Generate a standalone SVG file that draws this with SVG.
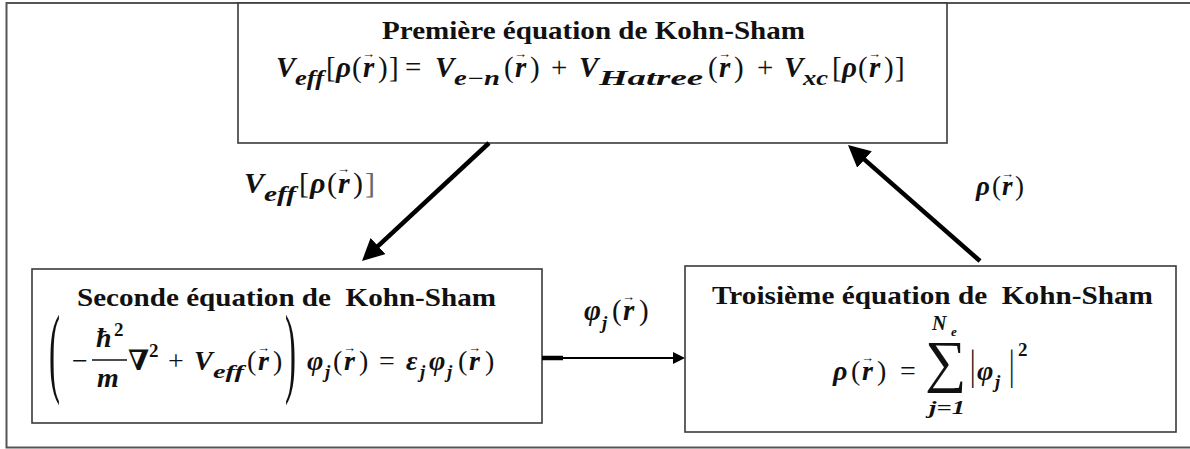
<svg xmlns="http://www.w3.org/2000/svg" width="1190" height="449" viewBox="0 0 1190 449">
<defs>
<style>
.frame{fill:none;stroke:#555;stroke-width:2}
.box{fill:#fff;stroke:#3a3a3a;stroke-width:1.6}
.title{font-family:"Liberation Serif","DejaVu Serif",serif;font-weight:bold;font-size:25px;fill:#111}
.mi{font-family:"Liberation Serif","DejaVu Serif",serif;font-weight:bold;font-style:italic;fill:#111}
.mo{font-family:"Liberation Serif","DejaVu Serif",serif;fill:#111}
.mb{font-family:"Liberation Serif","DejaVu Serif",serif;font-weight:bold;fill:#111}
.vec{font-family:"Liberation Serif","DejaVu Serif",serif;font-size:13px;fill:#111}
.z30{font-size:30px}.z29{font-size:29px}.z28{font-size:28px}.z27{font-size:27px}
.z20{font-size:20px}.z19{font-size:19px}.z13{font-size:13px}
.thick{stroke:#000;stroke-width:4.5;fill:none}
.thin{stroke:#000;stroke-width:2;fill:none}
</style>
<marker id="ahBig" markerUnits="userSpaceOnUse" markerWidth="24" markerHeight="22" refX="6" refY="11" orient="auto">
<path d="M0,0 L22,11 L0,22 z" fill="#000"/>
</marker>
<marker id="ahSmall" markerUnits="userSpaceOnUse" markerWidth="14" markerHeight="12" refX="2" refY="6" orient="auto">
<path d="M0,0 L12,6 L0,12 z" fill="#000"/>
</marker>
</defs>
<rect width="1190" height="449" fill="#fff"/>
<rect class="frame" x="6.5" y="3" width="1200" height="444.5"/>

<g id="node-first">
<rect class="box" x="238" y="3" width="709" height="140"/>
<text class="title" x="382" y="39" textLength="423" lengthAdjust="spacingAndGlyphs">Première équation de Kohn-Sham</text>
<text class="mi z29" x="276" y="77">V</text>
<text class="mi z20" x="295" y="85" textLength="29" lengthAdjust="spacingAndGlyphs">eff</text>
<text class="mo z29" x="326" y="77">[</text>
<text class="mi z29" x="336" y="77">ρ</text>
<text class="mo z29" x="352" y="77">(</text>
<text class="mi z29" x="363" y="77">r</text>
<text class="vec" x="362" y="58">→</text>
<text class="mo z29" x="378" y="77">)</text>
<text class="mo z29" x="389" y="77">]</text>
<text class="mo z29" x="405" y="77">=</text>
<text class="mi z29" x="435" y="77">V</text>
<text class="mi z20" x="454" y="85" textLength="46" lengthAdjust="spacingAndGlyphs">e−n</text>
<text class="mo z29" x="504" y="77">(</text>
<text class="mi z29" x="515" y="77">r</text>
<text class="vec" x="514" y="58">→</text>
<text class="mo z29" x="530" y="77">)</text>
<text class="mo z29" x="551" y="77">+</text>
<text class="mi z29" x="579" y="77">V</text>
<text class="mi z20" x="599" y="85" textLength="104" lengthAdjust="spacingAndGlyphs">Hatree</text>
<text class="mo z29" x="708" y="77">(</text>
<text class="mi z29" x="719" y="77">r</text>
<text class="vec" x="718" y="58">→</text>
<text class="mo z29" x="734" y="77">)</text>
<text class="mo z29" x="757" y="77">+</text>
<text class="mi z29" x="784" y="77">V</text>
<text class="mi z20" x="803" y="85" textLength="25" lengthAdjust="spacingAndGlyphs">xc</text>
<text class="mo z29" x="832" y="77">[</text>
<text class="mi z29" x="842" y="77">ρ</text>
<text class="mo z29" x="858" y="77">(</text>
<text class="mi z29" x="869" y="77">r</text>
<text class="vec" x="868" y="58">→</text>
<text class="mo z29" x="884" y="77">)</text>
<text class="mo z29" x="895" y="77">]</text>
</g>

<g id="node-second">
<rect class="box" x="32" y="269" width="510" height="154"/>
<text class="title" x="77" y="306" textLength="419" lengthAdjust="spacingAndGlyphs" xml:space="preserve">Seconde équation de  Kohn-Sham</text>
<text class="mo z30" transform="translate(49,384) scale(1.1,3.3)">(</text>
<text class="mo z28" x="72" y="370">−</text>
<text class="mi z28" x="96" y="347">ħ</text>
<text class="mb z19" x="114" y="336">2</text>
<line x1="92" y1="360" x2="127" y2="360" stroke="#111" stroke-width="1.5"/>
<text class="mi z28" x="97" y="387">m</text>
<text class="mb z28" x="128" y="370">∇</text>
<text class="mb z19" x="149" y="357">2</text>
<text class="mo z28" x="168" y="370">+</text>
<text class="mi z28" x="194" y="370">V</text>
<text class="mi z19" x="213" y="378" textLength="31" lengthAdjust="spacingAndGlyphs">eff</text>
<text class="mo z28" x="247" y="370">(</text>
<text class="mi z28" x="258" y="370">r</text>
<text class="vec" x="257" y="352">→</text>
<text class="mo z28" x="273" y="370">)</text>
<text class="mo z30" transform="translate(285,384) scale(1.1,3.3)">)</text>
<text class="mi z28" x="307" y="370">φ</text>
<text class="mi z19" x="325" y="378">j</text>
<text class="mo z28" x="333" y="370">(</text>
<text class="mi z28" x="344" y="370">r</text>
<text class="vec" x="343" y="352">→</text>
<text class="mo z28" x="359" y="370">)</text>
<text class="mo z28" x="379" y="370">=</text>
<text class="mi z28" x="406" y="370">ε</text>
<text class="mi z19" x="420" y="378">j</text>
<text class="mi z28" x="429" y="370">φ</text>
<text class="mi z19" x="447" y="378">j</text>
<text class="mo z28" x="458" y="370">(</text>
<text class="mi z28" x="469" y="370">r</text>
<text class="vec" x="468" y="352">→</text>
<text class="mo z28" x="485" y="370">)</text>
</g>

<g id="node-third">
<rect class="box" x="685" y="266" width="491" height="166"/>
<text class="title" x="712" y="304" textLength="441" lengthAdjust="spacingAndGlyphs" xml:space="preserve">Troisième équation de  Kohn-Sham</text>
<text class="mi z28" x="833" y="380">ρ</text>
<text class="mo z28" x="851" y="380">(</text>
<text class="mi z28" x="862" y="380">r</text>
<text class="vec" x="861" y="362">→</text>
<text class="mo z28" x="877" y="380">)</text>
<text class="mo z28" x="900" y="380">=</text>
<text class="mo" style="font-size:58px" x="925" y="381">∑</text>
<text class="mi z20" x="932" y="330">N</text>
<text class="mi z13" x="951" y="336">e</text>
<text class="mi z19" x="929" y="414" textLength="36" lengthAdjust="spacingAndGlyphs">j=1</text>
<text class="mo z27" transform="translate(970,379) scale(1,1.6)">|</text>
<text class="mi z28" x="977" y="380">φ</text>
<text class="mi z19" x="995" y="388">j</text>
<text class="mo z27" transform="translate(1009,379) scale(1,1.6)">|</text>
<text class="mb z19" x="1018" y="356">2</text>
</g>

<g id="connectors">
<line class="thick" x1="489" y1="143" x2="373.7" y2="250.1" marker-end="url(#ahBig)"/>
<line class="thick" x1="980" y1="261" x2="860" y2="155.6" marker-end="url(#ahBig)"/>
<line x1="542" y1="358" x2="563" y2="358" stroke="#000" stroke-width="4.5"/>
<line class="thin" x1="542" y1="358" x2="675" y2="358" marker-end="url(#ahSmall)"/>
</g>

<g id="labels">
<text class="mi z30" x="244" y="193">V</text>
<text class="mi z20" x="264" y="201" textLength="32" lengthAdjust="spacingAndGlyphs">eff</text>
<text class="mo z30" x="299" y="193">[</text>
<text class="mi z30" x="310" y="193">ρ</text>
<text class="mo z30" x="327" y="193">(</text>
<text class="mi z30" x="338" y="193">r</text>
<text class="vec" x="337" y="173">→</text>
<text class="mo z30" x="353" y="193">)</text>
<text class="mo z30" x="365" y="193" style="fill:#666">]</text>
<text class="mi z27" x="976" y="195">ρ</text>
<text class="mo z27" x="992" y="195">(</text>
<text class="mi z27" x="1002" y="195">r</text>
<text class="vec" x="1001" y="178">→</text>
<text class="mo z27" x="1015" y="195">)</text>
<text class="mi z29" x="584" y="320">φ</text>
<text class="mi z19" x="602" y="329">j</text>
<text class="mo z29" x="612" y="320">(</text>
<text class="mi z29" x="623" y="320">r</text>
<text class="vec" x="622" y="301">→</text>
<text class="mo z29" x="639" y="320">)</text>
</g>
</svg>
